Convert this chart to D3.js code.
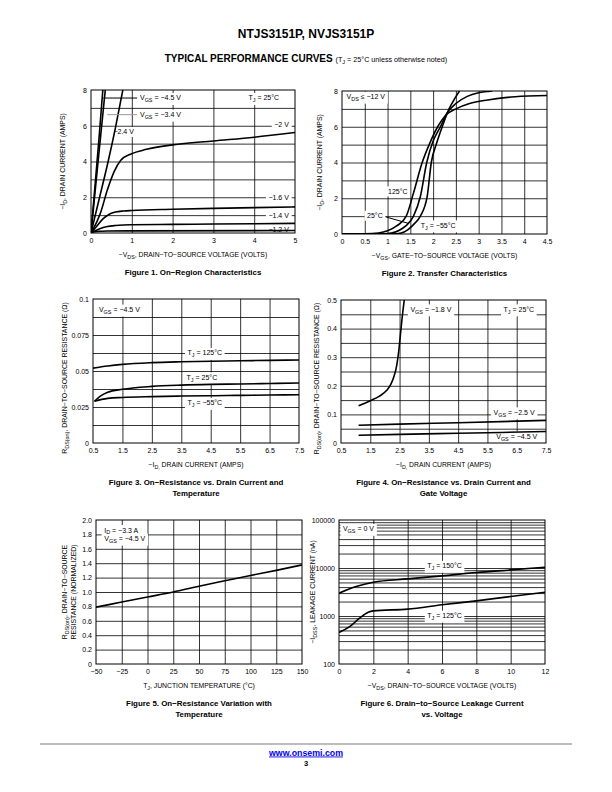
<!DOCTYPE html>
<html><head><meta charset="utf-8">
<script src="https://cdn.jsdelivr.net/npm/d3@7"></script>
<style>body{margin:0;background:#fff}</style>
</head><body>
<svg id="page" width="612" height="792" xmlns="http://www.w3.org/2000/svg"></svg>
<script>
// ---------------- DATA ----------------
// Figure 1: On-Region Characteristics  (x: -VDS volts, y: -ID amps)
const f1_vgs45 = [[0,0],[0.1,2.7],[0.2,5.4],[0.29,8]];
const f1_vgs34 = [[0,0],[0.1,2.3],[0.2,4.6],[0.35,8]];
const f1_vgs24 = [[0,0],[0.2,1.9],[0.42,4.0],[0.6,5.9],[0.78,8]];
const f1_vgs20 = [[0,0],[0.23,1.1],[0.4,2.4],[0.57,3.45],[0.73,4.07],[0.98,4.42],[1.36,4.68],[2,4.93],[3,5.15],[4,5.36],[5,5.62]];
const f1_vgs16 = [[0,0],[0.15,0.4],[0.3,0.8],[0.45,1.05],[0.6,1.17],[0.8,1.23],[1,1.26],[2,1.33],[3,1.38],[4,1.42],[5,1.46]];
const f1_vgs14 = [[0,0],[0.2,0.22],[0.4,0.36],[0.6,0.42],[0.8,0.45],[1,0.46],[2,0.48],[3,0.5],[4,0.52],[5,0.54]];
const f1_vgs12 = [[0,0],[0.05,0.05],[0.15,0.09],[0.4,0.11],[1,0.12],[5,0.14]];
const f1_xTicks = [0,1,2,3,4,5];
const f1_yTicks = [0,2,4,6,8];

// Figure 2: Transfer Characteristics (x: -VGS volts, y: -ID amps)
const f2_t125 = [[0,0],[0.5,0.01],[0.8,0.06],[1.0,0.18],[1.2,0.45],[1.41,1.0],[1.57,2.3],[1.76,4.0],[1.93,5.1],[2.1,6.0],[2.3,6.7],[2.5,7.0],[2.8,7.3],[3.2,7.5],[3.8,7.68],[4.5,7.75]];
const f2_t25  = [[0,0],[0.8,0.01],[1.08,0.06],[1.25,0.2],[1.4,0.45],[1.57,1.0],[1.72,2.1],[1.86,4.0],[2.0,5.2],[2.16,6.0],[2.3,6.75],[2.5,7.3],[2.75,7.7],[3.0,7.9],[3.3,8.0]];
const f2_t55  = [[0,0],[1.1,0.01],[1.3,0.06],[1.45,0.25],[1.58,0.55],[1.72,1.0],[1.87,2.1],[1.96,4.0],[2.08,5.1],[2.2,6.0],[2.35,7.0],[2.48,7.6],[2.58,8.0]];
const f2_xTicks = [0,0.5,1,1.5,2,2.5,3,3.5,4,4.5];
const f2_yTicks = [0,2,4,6,8];

// Figure 3: On-Resistance vs Drain Current and Temperature (x: -ID amps, y: ohms)
const f3_t125 = [[0.5,0.052],[1,0.0535],[1.5,0.0546],[2.5,0.0558],[3.5,0.0564],[4.5,0.0568],[5.5,0.0571],[6.5,0.0574],[7.5,0.0576]];
const f3_t25  = [[0.55,0.029],[0.75,0.0325],[1,0.0352],[1.5,0.0373],[2.5,0.0393],[3.5,0.0402],[4.5,0.0407],[5.5,0.041],[6.5,0.0413],[7.5,0.0417]];
const f3_t55  = [[0.55,0.029],[0.8,0.0303],[1,0.031],[1.5,0.0316],[2.5,0.0322],[3.5,0.0326],[4.5,0.0328],[5.5,0.0331],[6.5,0.0333],[7.5,0.0335]];
const f3_xTicks = [0.5,1.5,2.5,3.5,4.5,5.5,6.5,7.5];
const f3_yTicks = [0,0.025,0.05,0.075,0.1];

// Figure 4: On-Resistance vs Drain Current and Gate Voltage
const f4_vgs18 = [[1.1,0.13],[1.5,0.148],[1.8,0.163],[2.07,0.185],[2.2,0.205],[2.3,0.23],[2.4,0.27],[2.47,0.32],[2.53,0.38],[2.59,0.44],[2.66,0.5]];
const f4_vgs25 = [[1.1,0.062],[2.5,0.066],[4.5,0.071],[7.5,0.079]];
const f4_vgs45 = [[1.1,0.027],[2.5,0.03],[4.5,0.034],[7.5,0.04]];
const f4_xTicks = [0.5,1.5,2.5,3.5,4.5,5.5,6.5,7.5];
const f4_yTicks = [0,0.1,0.2,0.3,0.4,0.5];

// Figure 5: On-Resistance Variation with Temperature (x: TJ °C, y: normalized)
const f5_temp = [-50,-25,0,25,50,75,100,125,150];
const f5_rNorm = [0.79,0.86,0.93,1.0,1.08,1.155,1.23,1.30,1.376];
const f5_xTicks = [-50,-25,0,25,50,75,100,125,150];
const f5_yTicks = [0,0.2,0.4,0.6,0.8,1.0,1.2,1.4,1.6,1.8,2.0];

// Figure 6: Drain-to-Source Leakage Current vs Voltage (x: -VDS volts, y: nA)
const f6_t150 = [[0,2985],[1,4110],[2,5060],[4,5930],[6,6850],[8,8040],[10,9120],[12,10380]];
const f6_t125 = [[0,455],[0.62,600],[1.2,904],[1.7,1200],[2,1280],[4,1390],[6,1710],[8,2070],[10,2550],[12,3130]];
const f6_xTicks = [0,2,4,6,8,10,12];
const f6_yTicks = [100,1000,10000,100000];

// ---------------- DRAWING ----------------
const FONT = "'Liberation Sans', Arial, Helvetica, sans-serif";
const page = d3.select('#page').attr('font-family', FONT);
const M = '\u2212';

function rich(sel, str, size) {
  const re = /_\{([^}]*)\}/g; let last = 0, m, shifted = false;
  while ((m = re.exec(str))) {
    if (m.index > last) { const t = sel.append('tspan').text(str.slice(last, m.index)); if (shifted) { t.attr('dy', -size*0.28); shifted = false; } }
    sel.append('tspan').attr('font-size', size*0.78).attr('dy', size*0.28).text(m[1]);
    shifted = true; last = re.lastIndex;
  }
  if (last < str.length) { const t = sel.append('tspan').text(str.slice(last)); if (shifted) t.attr('dy', -size*0.28); }
  return sel;
}

function makeChart(o) {
  const g = page.append('g');
  const x = o.x.range([o.L, o.R]);
  const y = o.y.range([o.B, o.T]);
  const id = 'clip' + o.id;
  g.append('clipPath').attr('id', id).append('rect')
    .attr('x', o.L).attr('y', o.T).attr('width', o.R - o.L).attr('height', o.B - o.T);
  const gx = g.append('g').attr('transform', `translate(0,${o.B})`)
    .call(d3.axisBottom(x).tickValues(o.xGrid).tickSize(-(o.B - o.T)).tickFormat(''));
  const gy = g.append('g').attr('transform', `translate(${o.L},0)`)
    .call(d3.axisLeft(y).tickValues(o.yGrid).tickSize(-(o.R - o.L)).tickFormat(''));
  [gx, gy].forEach(s => { s.select('.domain').remove(); s.selectAll('line').attr('stroke', '#000').attr('stroke-width', 0.8); });
  const bgLayer = g.append('g');
  const curveLayer = g.append('g').attr('clip-path', `url(#${id})`).attr('fill', 'none').attr('stroke', '#000').attr('stroke-width', 1.6);
  g.append('rect').attr('x', o.L).attr('y', o.T).attr('width', o.R - o.L).attr('height', o.B - o.T)
    .attr('fill', 'none').attr('stroke', '#000').attr('stroke-width', 1);
  const textLayer = g.append('g');
  const ax = g.append('g').attr('transform', `translate(0,${o.B})`)
    .call(d3.axisBottom(x).tickValues(o.xTicks).tickSize(0).tickPadding(5).tickFormat(o.xFmt));
  const ay = g.append('g').attr('transform', `translate(${o.L},0)`)
    .call(d3.axisLeft(y).tickValues(o.yTicks).tickSize(0).tickPadding(4).tickFormat(o.yFmt));
  [ax, ay].forEach(s => { s.select('.domain').remove(); s.attr('font-family', FONT).attr('font-size', 7); s.selectAll('text').attr('fill', '#000'); });
  const xt = g.append('text').attr('x', (o.L + o.R) / 2).attr('y', o.B + 24).attr('text-anchor', 'middle').attr('font-size', 6.8);
  rich(xt, o.xTitle, 6.8);
  o.yTitles.forEach((t, i) => {
    const cx = o.L - o.yTitleOff[i], cy = (o.T + o.B) / 2 + (o.yTitleShift || 0);
    const yt = g.append('text').attr('transform', `translate(${cx},${cy}) rotate(-90)`).attr('text-anchor', 'middle').attr('dy', '0.35em').attr('font-size', 6.9);
    rich(yt, t, 6.9);
  });
  o.caption.forEach((c, i) => {
    g.append('text').attr('x', (o.L + o.R) / 2).attr('y', o.B + 42 + i * 11).attr('text-anchor', 'middle')
      .attr('font-weight', 'bold').attr('font-size', 7.9).text(c);
  });
  const api = { x, y, g, curveLayer, textLayer, bgLayer };
  api.curve = (pts) => {
    curveLayer.append('path').attr('d', d3.line().x(d => x(d[0])).y(d => y(d[1])).curve(d3.curveMonotoneX)(pts));
  };
  api.label = (vx, vy, str, anchor, bg) => {
    const t = textLayer.append('text').attr('x', x(vx)).attr('y', y(vy)).attr('dy', '0.35em')
      .attr('text-anchor', anchor || 'start').attr('font-size', 7);
    rich(t, str, 7);
    if (bg !== false) {
      const b = t.node().getBBox();
      bgLayer.append('rect').attr('x', b.x - 2.5).attr('y', b.y - 1.5).attr('width', b.width + 5).attr('height', b.height + 3).attr('fill', '#fff');
    }
    return t;
  };
  api.leader = (p0, p1, color) => {
    textLayer.append('line').attr('x1', x(p0[0])).attr('y1', y(p0[1])).attr('x2', x(p1[0])).attr('y2', y(p1[1]))
      .attr('stroke', color || '#000').attr('stroke-width', 1);
  };
  return api;
}

const fmtPlain = d => String(d).replace('-', M);

// Header
page.append('text').attr('x', 306).attr('y', 37.5).attr('text-anchor', 'middle').attr('font-weight', 'bold').attr('font-size', 12).text('NTJS3151P, NVJS3151P');
const title = page.append('text').attr('x', 306).attr('y', 61.5).attr('text-anchor', 'middle');
title.append('tspan').attr('font-weight', 'bold').attr('font-size', 10).text('TYPICAL PERFORMANCE CURVES ');
const note = title.append('tspan').attr('font-size', 7.2);
rich(note, '(T_{J} = 25°C unless otherwise noted)', 7.2);

// Figure 1
const c1 = makeChart({ id: 1, L: 91, R: 295, T: 90, B: 233,
  x: d3.scaleLinear().domain([0, 5]), y: d3.scaleLinear().domain([0, 8]),
  xGrid: [1, 2, 3, 4], yGrid: [1, 2, 3, 4, 5, 6, 7], xTicks: f1_xTicks, yTicks: f1_yTicks,
  xFmt: d3.format('d'), yFmt: d3.format('d'),
  xTitle: M + 'V_{DS}, DRAIN' + M + 'TO' + M + 'SOURCE VOLTAGE (VOLTS)',
  yTitles: [M + 'I_{D}, DRAIN CURRENT (AMPS)'], yTitleOff: [28],
  caption: ['Figure 1. On' + M + 'Region Characteristics'] });
[f1_vgs45, f1_vgs34, f1_vgs24, f1_vgs20, f1_vgs16, f1_vgs14, f1_vgs12].forEach(s => c1.curve(s));
c1.label(1.2, 7.55, 'V_{GS} = ' + M + '4.5 V');
c1.label(1.2, 6.62, 'V_{GS} = ' + M + '3.4 V');
c1.label(0.55, 5.65, M + '2.4 V');
c1.label(3.86, 7.55, 'T_{J} = 25°C');
c1.label(4.85, 6.05, M + '2 V', 'end');
c1.label(4.85, 2.0, M + '1.6 V', 'end');
c1.label(4.85, 0.98, M + '1.4 V', 'end');
c1.label(4.85, 0.2, M + '1.2 V', 'end');
c1.leader([0.3, 7.55], [1.13, 7.55], '#000');
c1.leader([0.4, 6.62], [1.13, 6.62], '#999');

// Figure 2
const c2 = makeChart({ id: 2, L: 342, R: 547, T: 91, B: 234,
  x: d3.scaleLinear().domain([0, 4.5]), y: d3.scaleLinear().domain([0, 8]),
  xGrid: [0.5, 1, 1.5, 2, 2.5, 3, 3.5, 4], yGrid: [1, 2, 3, 4, 5, 6, 7], xTicks: f2_xTicks, yTicks: f2_yTicks,
  xFmt: d => String(d), yFmt: d3.format('d'),
  xTitle: M + 'V_{GS}, GATE' + M + 'TO' + M + 'SOURCE VOLTAGE (VOLTS)',
  yTitles: [M + 'I_{D}, DRAIN CURRENT (AMPS)'], yTitleOff: [22],
  caption: ['Figure 2. Transfer Characteristics'] });
[f2_t125, f2_t25, f2_t55].forEach(s => c2.curve(s));
c2.label(0.1, 7.68, 'V_{DS} ≤ ' + M + '12 V');
c2.label(1.01, 2.38, '125°C');
c2.label(0.55, 1.02, '25°C');
c2.label(1.73, 0.48, 'T_{J} = ' + M + '55°C');
c2.leader([0.97, 0.95], [1.45, 0.6]);

// Figure 3
const c3 = makeChart({ id: 3, L: 93, R: 299, T: 299, B: 443,
  x: d3.scaleLinear().domain([0.5, 7.5]), y: d3.scaleLinear().domain([0, 0.1]),
  xGrid: [1.5, 2.5, 3.5, 4.5, 5.5, 6.5], yGrid: d3.range(1, 8).map(i => i * 0.0125), xTicks: f3_xTicks, yTicks: f3_yTicks,
  xFmt: d => String(d), yFmt: d => String(d),
  xTitle: M + 'I_{D,} DRAIN CURRENT (AMPS)',
  yTitles: ['R_{DS(on)}, DRAIN' + M + 'TO' + M + 'SOURCE RESISTANCE (Ω)'], yTitleOff: [28], yTitleShift: 7,
  caption: ['Figure 3. On' + M + 'Resistance vs. Drain Current and', 'Temperature'] });
[f3_t125, f3_t25, f3_t55].forEach(s => c3.curve(s));
c3.label(0.7, 0.0926, 'V_{GS} = ' + M + '4.5 V');
c3.label(4.3, 0.0625, 'T_{J} = 125°C', 'middle');
c3.label(4.2, 0.0456, 'T_{J} = 25°C', 'middle');
c3.label(4.3, 0.0278, 'T_{J} = ' + M + '55°C', 'middle');

// Figure 4
const c4 = makeChart({ id: 4, L: 341, R: 546, T: 300, B: 443,
  x: d3.scaleLinear().domain([0.5, 7.5]), y: d3.scaleLinear().domain([0, 0.5]),
  xGrid: [1.5, 2.5, 3.5, 4.5, 5.5, 6.5], yGrid: d3.range(1, 10).map(i => i * 0.05), xTicks: f4_xTicks, yTicks: f4_yTicks,
  xFmt: d => String(d), yFmt: d => String(d),
  xTitle: M + 'I_{D,} DRAIN CURRENT (AMPS)',
  yTitles: ['R_{DS(on)}, DRAIN' + M + 'TO' + M + 'SOURCE RESISTANCE (Ω)'], yTitleOff: [24], yTitleShift: 7,
  caption: ['Figure 4. On' + M + 'Resistance vs. Drain Current and', 'Gate Voltage'] });
[f4_vgs18, f4_vgs25, f4_vgs45].forEach(s => c4.curve(s));
c4.label(2.87, 0.467, 'V_{GS} = ' + M + '1.8 V');
c4.label(6.05, 0.467, 'T_{J} = 25°C');
c4.label(5.71, 0.107, 'V_{GS} = ' + M + '2.5 V');
c4.label(5.8, 0.023, 'V_{GS} = ' + M + '4.5 V');

// Figure 5
const c5 = makeChart({ id: 5, L: 96, R: 302, T: 520, B: 664,
  x: d3.scaleLinear().domain([-50, 150]), y: d3.scaleLinear().domain([0, 2]),
  xGrid: [-25, 0, 25, 50, 75, 100, 125], yGrid: d3.range(1, 10).map(i => i * 0.2), xTicks: f5_xTicks, yTicks: f5_yTicks,
  xFmt: fmtPlain, yFmt: d => d === 0 ? '0' : d3.format('.1f')(d),
  xTitle: 'T_{J}, JUNCTION TEMPERATURE (°C)',
  yTitles: ['R_{DS(on)}, DRAIN' + M + 'TO' + M + 'SOURCE', 'RESISTANCE (NORMALIZED)'], yTitleOff: [31, 22],
  caption: ['Figure 5. On' + M + 'Resistance Variation with', 'Temperature'] });
c5.curve(f5_temp.map((t, i) => [t, f5_rNorm[i]]));
c5.label(-42, 1.86, 'I_{D} = ' + M + '3.3 A');
c5.label(-42, 1.74, 'V_{GS} = ' + M + '4.5 V');

// Figure 6
const minor6 = [];
[100, 1000, 10000].forEach(d => { for (let k = 1; k <= 9; k++) if (d * k > 100) minor6.push(d * k); });
const c6 = makeChart({ id: 6, L: 339, R: 545, T: 520, B: 664,
  x: d3.scaleLinear().domain([0, 12]), y: d3.scaleLog().domain([100, 100000]),
  xGrid: [2, 4, 6, 8, 10], yGrid: minor6, xTicks: f6_xTicks, yTicks: f6_yTicks,
  xFmt: d3.format('d'), yFmt: d => String(d),
  xTitle: M + 'V_{DS}, DRAIN' + M + 'TO' + M + 'SOURCE VOLTAGE (VOLTS)',
  yTitles: [M + 'I_{DSS}, LEAKAGE CURRENT (nA)'], yTitleOff: [26],
  caption: ['Figure 6. Drain' + M + 'to' + M + 'Source Leakage Current', 'vs. Voltage'] });
[f6_t150, f6_t125].forEach(s => c6.curve(s));
c6.label(0.23, 65000, 'V_{GS} = 0 V');
c6.label(6.15, 11070, 'T_{J} = 150°C', 'middle');
c6.label(6.15, 1010, 'T_{J} = 125°C', 'middle');

// Footer
page.append('line').attr('x1', 40).attr('x2', 572).attr('y1', 744).attr('y2', 744).attr('stroke', '#bdbdbd').attr('stroke-width', 2);
page.append('text').attr('x', 306).attr('y', 755.5).attr('text-anchor', 'middle').attr('font-weight', 'bold').attr('font-size', 8.8)
  .attr('fill', '#0000ee').attr('text-decoration', 'underline').text('www.onsemi.com');
page.append('text').attr('x', 306).attr('y', 765.5).attr('text-anchor', 'middle').attr('font-weight', 'bold').attr('font-size', 7.5).text('3');
</script>
</body></html>
